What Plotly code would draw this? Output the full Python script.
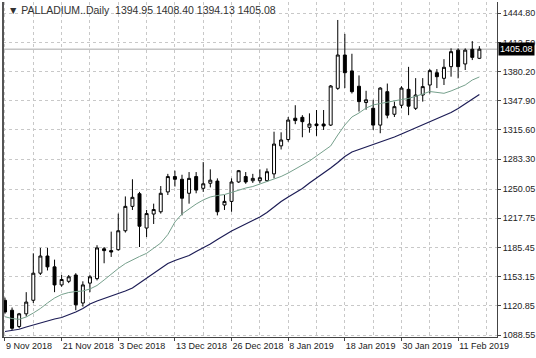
import plotly.graph_objects as go

dates = [
    "2018-11-09", "2018-11-12", "2018-11-13", "2018-11-14", "2018-11-15", "2018-11-16",
    "2018-11-19", "2018-11-20", "2018-11-21", "2018-11-22", "2018-11-23", "2018-11-26",
    "2018-11-27", "2018-11-28", "2018-11-29", "2018-11-30",
    "2018-12-03", "2018-12-04", "2018-12-05", "2018-12-06", "2018-12-07", "2018-12-10",
    "2018-12-11", "2018-12-12", "2018-12-13", "2018-12-14", "2018-12-17", "2018-12-18",
    "2018-12-19", "2018-12-20", "2018-12-21", "2018-12-24", "2018-12-26", "2018-12-27",
    "2018-12-28", "2018-12-31",
    "2019-01-02", "2019-01-03", "2019-01-04", "2019-01-07", "2019-01-08", "2019-01-09",
    "2019-01-10", "2019-01-11", "2019-01-14", "2019-01-15", "2019-01-16", "2019-01-17",
    "2019-01-18", "2019-01-21", "2019-01-22", "2019-01-23", "2019-01-24", "2019-01-25",
    "2019-01-28", "2019-01-29", "2019-01-30", "2019-01-31",
    "2019-02-01", "2019-02-04", "2019-02-05", "2019-02-06", "2019-02-07", "2019-02-08",
    "2019-02-11", "2019-02-12", "2019-02-13", "2019-02-14",
]

open_ = [1127, 1116, 1098, 1112, 1127, 1157, 1176, 1164, 1144, 1148,
         1155, 1124, 1146, 1151, 1184, 1182, 1183, 1204, 1231, 1245,
         1207, 1222.5, 1225, 1247, 1264, 1261, 1245.5, 1264, 1251, 1256.6,
         1259, 1232.5, 1236.5, 1258, 1264, 1259.4, 1259.4, 1259.4, 1267, 1298,
         1305, 1328.6, 1329.6, 1318.6, 1322.2, 1322.2, 1321, 1361.7, 1398.6, 1381,
         1364, 1346, 1339.6, 1321, 1358, 1333, 1343, 1360.6, 1339.6, 1354.3,
         1365.4, 1379, 1372.8, 1385.7, 1404, 1388.7, 1405, 1394.95]
high = [1130, 1119, 1113, 1136, 1179, 1185, 1185, 1172, 1155, 1155,
        1157, 1148, 1155, 1188, 1186, 1203, 1223, 1242, 1261, 1247,
        1227, 1234, 1253.5, 1267, 1270.5, 1266, 1269, 1269, 1280, 1272,
        1262, 1243.6, 1262, 1271.3, 1269, 1267, 1272, 1273, 1313.7, 1313,
        1330, 1343, 1332, 1334, 1337.7, 1337.7, 1365.4, 1437.4, 1422, 1400,
        1376, 1359, 1349, 1363, 1367, 1347, 1364, 1385.5, 1373, 1373,
        1383, 1383, 1394, 1406, 1406, 1406, 1414, 1408.40]
low = [1112, 1094, 1096, 1109, 1124, 1155, 1160, 1136, 1142, 1146,
       1116, 1120, 1136, 1149, 1168, 1175, 1182, 1202, 1227, 1186,
       1197, 1211.5, 1223, 1243.6, 1253, 1221, 1234, 1245.5, 1247, 1252,
       1221, 1227, 1225, 1257, 1256, 1257, 1257, 1258, 1262, 1294,
       1302.6, 1322, 1307.5, 1312.6, 1309, 1315.6, 1320, 1360, 1362, 1356,
       1336, 1338, 1315.6, 1312, 1328.5, 1330, 1339.6, 1332, 1337.7, 1347,
       1356, 1362, 1365.4, 1374.6, 1372.8, 1382, 1393, 1394.13]
close = [1114, 1096, 1112, 1125, 1157, 1176, 1164, 1144, 1150, 1153,
         1122, 1144, 1153, 1185, 1182, 1180.5, 1204, 1231, 1241, 1209,
         1223, 1227.5, 1245.5, 1264, 1261, 1240, 1262, 1249, 1256, 1260,
         1225, 1236.5, 1258, 1270.5, 1258, 1262, 1262.7, 1269.4, 1300, 1304.5,
         1326.6, 1326, 1324.8, 1322.2, 1320.4, 1320, 1364.3, 1398.6, 1379, 1358,
         1347, 1349, 1321, 1362, 1332, 1341.4, 1362, 1342, 1354.3, 1363.6,
         1381.3, 1374.6, 1385, 1402.3, 1385.7, 1404, 1396, 1405.08]

ma_fast = [1108.8, 1106.8, 1105.9, 1108.5, 1112.9, 1117.9, 1124.0, 1129.5, 1133.4, 1135.6,
           1136.7, 1137.3, 1139.5, 1143.4, 1149.5, 1156.1, 1162.2, 1167.7, 1171.9, 1175.5,
           1179.0, 1184.9, 1190.4, 1199.8, 1213.7, 1222.6, 1228.6, 1233.6, 1238.1, 1241.4,
           1243.0, 1244.1, 1246.4, 1249.1, 1251.3, 1253.0, 1255.8, 1258.0, 1261.3, 1264.1,
           1267.9, 1272.4, 1276.8, 1281.2, 1286.8, 1292.3, 1297.9, 1310.0, 1321.1, 1330.0,
           1334.4, 1339.9, 1343.3, 1344.9, 1346.6, 1348.2, 1349.3, 1350.5, 1352.7, 1355.4,
           1358.2, 1357.1, 1356.2, 1358.8, 1362.1, 1365.4, 1370.9, 1374.3]
ma_slow = [1092.4, 1093.5, 1094.9, 1097.4, 1099.6, 1102.4, 1104.6, 1106.3, 1107.9, 1110.7,
           1114.0, 1117.9, 1122.9, 1126.2, 1129.0, 1131.2, 1134.0, 1137.3, 1140.6, 1146.1,
           1151.1, 1156.1, 1162.2, 1167.7, 1171.1, 1173.8, 1176.6, 1181.0, 1184.9, 1189.3,
           1194.3, 1199.3, 1203.7, 1207.6, 1211.5, 1214.8, 1219.2, 1224.2, 1230.3, 1236.4,
           1241.4, 1245.8, 1250.8, 1256.9, 1262.4, 1267.4, 1273.5, 1279.6, 1286.2, 1291.2,
           1294.0, 1296.7, 1299.0, 1301.7, 1304.5, 1307.8, 1311.1, 1314.5, 1317.2, 1320.6,
           1323.9, 1327.8, 1331.1, 1335.0, 1339.4, 1344.4, 1349.3, 1354.9]

x_label_dates = ["2018-11-09", "2018-11-21", "2018-12-03", "2018-12-13", "2018-12-26",
                 "2019-01-08", "2019-01-18", "2019-01-30", "2019-02-11"]
x_labels = ["9 Nov 2018", "21 Nov 2018", "3 Dec 2018", "13 Dec 2018", "26 Dec 2018",
            "8 Jan 2019", "18 Jan 2019", "30 Jan 2019", "11 Feb 2019"]
y_ticks = [1088.55, 1120.85, 1153.15, 1185.45, 1217.75, 1250.05, 1283.30,
           1315.60, 1347.90, 1380.20, 1412.50, 1444.80]
title_text = "\u25BC PALLADIUM..Daily  1394.95 1408.40 1394.13 1405.08"
last_price = 1405.08

idx = list(range(len(dates)))
label_pos = [dates.index(d) for d in x_label_dates]

FONT = "Liberation Sans, Arial, sans-serif"

fig = go.Figure()
fig.add_trace(go.Scatter(x=idx, y=ma_fast, mode="lines",
                         line=dict(color="#76a08c", width=1), hoverinfo="skip"))
fig.add_trace(go.Scatter(x=idx, y=ma_slow, mode="lines",
                         line=dict(color="#1c1c55", width=1.2), hoverinfo="skip"))
fig.add_trace(go.Candlestick(
    x=idx, open=open_, high=high, low=low, close=close,
    increasing=dict(line=dict(color="#000000", width=1), fillcolor="#ffffff"),
    decreasing=dict(line=dict(color="#000000", width=1), fillcolor="#000000"),
    whiskerwidth=0,
))

fig.add_shape(type="line", xref="paper", x0=0, x1=1, yref="y", y0=last_price, y1=last_price,
              line=dict(color="#a8a8a8", width=1), layer="below")
fig.add_shape(type="line", xref="paper", x0=0, x1=0, yref="paper", y0=0, y1=1,
              line=dict(color="#555555", width=2), layer="above")

fig.add_annotation(xref="paper", yref="paper", x=0.006, y=1.0, xanchor="left", yanchor="top",
                   text=title_text, showarrow=False,
                   font=dict(family=FONT, size=10.5, color="#333333"))
fig.add_annotation(xref="paper", yref="y", x=1.0, y=last_price, xanchor="left", yanchor="middle",
                   xshift=1, text=f"{last_price:.2f}", showarrow=False, bgcolor="#000000",
                   borderpad=1, font=dict(family=FONT, size=9, color="#ffffff"))

fig.update_layout(
    width=536, height=358,
    margin=dict(l=3, r=39, t=2, b=21, autoexpand=False),
    paper_bgcolor="#ffffff", plot_bgcolor="#ffffff",
    showlegend=False, boxgap=0.4,
    font=dict(family=FONT, size=9, color="#222222"),
    xaxis=dict(
        range=[-0.28, 69.49], rangeslider=dict(visible=False),
        tickmode="array", tickvals=label_pos, ticktext=x_labels,
        ticklabelposition="outside right", tickangle=0, automargin=False,
        ticks="outside", ticklen=3, tickcolor="#444444",
        showgrid=True, gridcolor="#c8c8c8", griddash="3px,3px", gridwidth=1,
        minor=dict(tickmode="linear", tick0=0, dtick=4, showgrid=True,
                   gridcolor="#c8c8c8", griddash="3px,3px", gridwidth=1, ticks=""),
        showline=True, linecolor="#444444", linewidth=1,
        zeroline=False, tickfont=dict(family=FONT, size=9, color="#222222"),
    ),
    yaxis=dict(
        side="right", range=[1086.34, 1457.31], automargin=False,
        tickmode="array", tickvals=y_ticks, ticktext=[f"{v:.2f}" for v in y_ticks],
        ticks="outside", ticklen=3, tickcolor="#444444",
        showgrid=True, gridcolor="#c8c8c8", griddash="3px,3px", gridwidth=1,
        showline=True, mirror=True, linecolor="#444444", linewidth=1,
        zeroline=False, tickfont=dict(family=FONT, size=9, color="#222222"),
    ),
)

fig.write_html("out.html")
